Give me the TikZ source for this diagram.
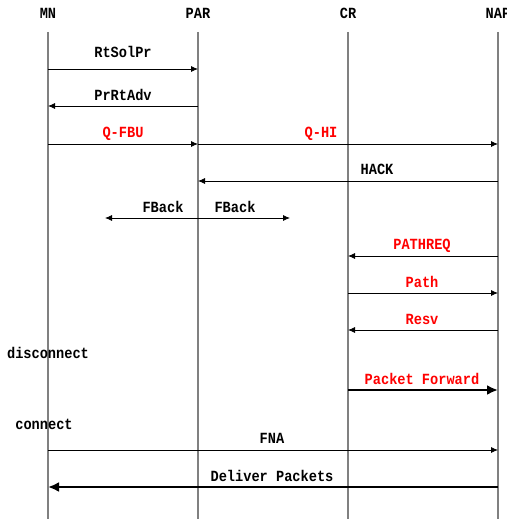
\documentclass[tikz,border=0pt]{standalone}
\usepackage{fontspec}
\setmainfont{Liberation Mono}[FakeStretch=0.88]
\usetikzlibrary{arrows.meta}
\definecolor{lifegray}{RGB}{128,128,128}
\tikzset{
  lbl/.style={font=\fontsize{15.5}{18}\selectfont\bfseries, inner sep=0pt, anchor=base},
  redlbl/.style={lbl, text=red},
  life/.style={draw=lifegray, line width=1.1pt},
  msg/.style={draw=black, line width=0.8pt, -{Latex[length=7pt,width=6pt]}},
  bimsg/.style={draw=black, line width=0.8pt, {Latex[length=7pt,width=6pt]}-{Latex[length=7pt,width=6pt]}},
  bigmsg/.style={draw=black, line width=2.4pt, -{Latex[length=11pt,width=10pt]}},
}
\begin{document}
\begin{tikzpicture}[x=1pt,y=-1pt]
\useasboundingbox (0,0) rectangle (506,519);
\begin{scope}
\clip (0,0) rectangle (506,519);
% headers
\node[lbl] (MN)  at (48,19)  {MN};
\node[lbl] (PAR) at (198,19) {PAR};
\node[lbl] (CR)  at (348,19) {CR};
\node[lbl] (NAP) at (498,19) {NAP};
% lifeline coordinates
\foreach \n/\x in {mn/48,par/198,cr/348,nap/498}{
  \coordinate (\n top) at (\x,32);
  \coordinate (\n bot) at (\x,519);
}
\draw[life] (mntop) -- (mnbot);
\draw[life] (partop) -- (parbot);
\draw[life] (crtop) -- (crbot);
\draw[life] (naptop) -- (napbot);
% message endpoints
\foreach \y in {69,106,144,181,218,256,293,330,390,450,487}{
  \coordinate (mn\y) at (48,\y);
  \coordinate (par\y) at (198,\y);
  \coordinate (cr\y) at (348,\y);
  \coordinate (nap\y) at (498,\y);
}
\coordinate (fbl) at (105,218);
\coordinate (fbr) at (290,218);
% messages
\draw[msg] (mn69) -- (par69);
\node[lbl] (m1) at (123,58) {RtSolPr};
\draw[msg] (par106) -- (mn106);
\node[lbl] (m2) at (123,100) {PrRtAdv};
\draw[msg] (mn144) -- (par144);
\node[redlbl] (m3) at (123,137) {Q-FBU};
\draw[msg] (par144) -- (nap144);
\node[redlbl] (m4) at (321,137) {Q-HI};
\draw[msg] (nap181) -- (par181);
\node[lbl] (m5) at (377,174) {HACK};
\draw[bimsg] (fbl) -- (fbr);
\node[lbl] (m6a) at (163,212) {FBack};
\node[lbl] (m6b) at (235,212) {FBack};
\draw[msg] (nap256) -- (cr256);
\node[redlbl] (m7) at (422,249) {PATHREQ};
\draw[msg] (cr293) -- (nap293);
\node[redlbl] (m8) at (422,287) {Path};
\draw[msg] (nap330) -- (cr330);
\node[redlbl] (m9) at (422,324) {Resv};
\node[lbl] (disc) at (48,358) {disconnect};
\draw[bigmsg] (cr390) -- (nap390);
\node[redlbl] (m10) at (422,384) {Packet Forward};
\node[lbl] (conn) at (44,429) {connect};
\draw[msg] (mn450) -- (nap450);
\node[lbl] (m11) at (272,443) {FNA};
\draw[bigmsg] (nap487) -- (mn487);
\node[lbl] (m12) at (272,481) {Deliver Packets};
\end{scope}
\end{tikzpicture}
\end{document}
